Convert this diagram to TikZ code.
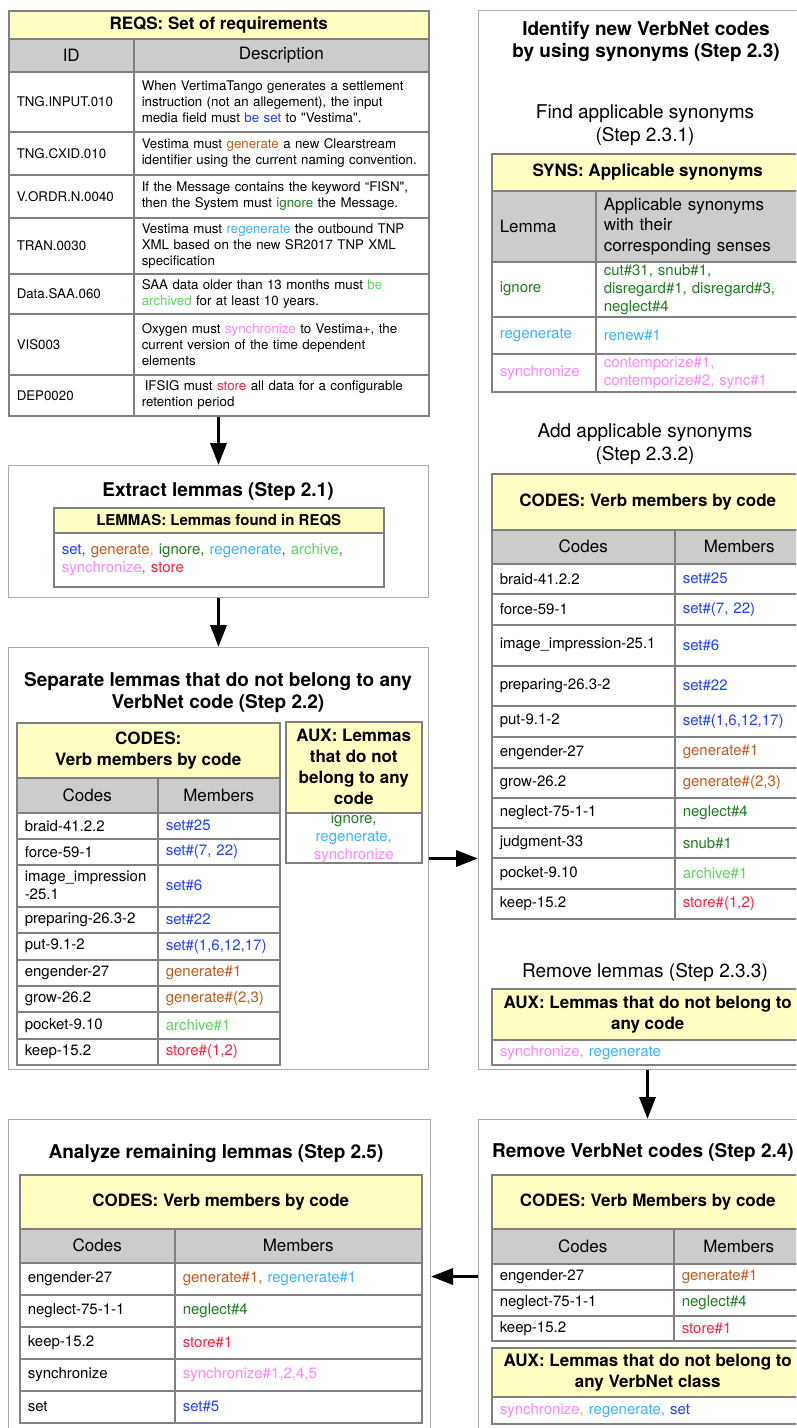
\documentclass[tikz,border=0pt]{standalone}
\usepackage{fontspec}
\setmainfont{TeX Gyre Heros}
\usetikzlibrary{arrows.meta}

\definecolor{cset}{HTML}{2040FF}
\definecolor{cgen}{HTML}{BF5A1F}
\definecolor{cign}{HTML}{1E7B1E}
\definecolor{cregen}{HTML}{3BB2FF}
\definecolor{carch}{HTML}{5CD65C}
\definecolor{csync}{HTML}{FF85FF}
\definecolor{cstore}{HTML}{FF1F3F}
\definecolor{corange}{HTML}{FF9A1A}
\definecolor{cdred}{HTML}{B0202A}
\definecolor{cpurp}{HTML}{9A30B0}
\definecolor{titlefill}{HTML}{FFFFC4}
\definecolor{headfill}{HTML}{CCCCCC}
\definecolor{tabline}{HTML}{808080}
\definecolor{boxline}{HTML}{ABABAB}

\newcommand\reqfont{\fontsize{13.3}{16}\selectfont}
\newcommand\cellfont{\fontsize{15}{18}\selectfont}
\newcommand\hdrfont{\fontsize{17}{20.5}\selectfont}
\newcommand\ttlfont{\bfseries\fontsize{17}{21}\selectfont}
\newcommand\stepfont{\bfseries\fontsize{19}{22}\selectfont}
\newcommand\substepfont{\fontsize{19}{23}\selectfont}

\tikzset{
  cellL/.style 2 args={draw=tabline, line width=1.5pt, anchor=north west, inner xsep=8pt, inner ysep=0pt, text width=#1-16pt, minimum height=#2, align=left, font=\cellfont},
  cellC/.style 2 args={draw=tabline, line width=1.5pt, anchor=north west, inner sep=0pt, minimum width=#1, minimum height=#2, align=center, font=\cellfont},
  ttl/.style={fill=titlefill, font=\ttlfont},
  hdr/.style={fill=headfill, font=\hdrfont},
  req/.style={font=\reqfont},
  stepbox/.style={draw=boxline, line width=1pt, anchor=north west, inner sep=0pt},
  steptitle/.style={font=\stepfont, align=center},
  substep/.style={font=\substepfont, align=center},
  flow/.style={line width=3.5pt, -{Triangle[length=22pt,width=16pt]}},
}

\begin{document}
\begin{tikzpicture}[x=1pt, y=-1pt]
            \useasboundingbox (0,0) rectangle (796,1428);
            \clip (0,0) rectangle (796,1428);
            \fill[white] (0,0) rectangle (796,1428);

            % REQS
            \node[cellC={420pt}{28pt}, ttl] (reqsT) at (8,10) {REQS: Set of requirements};
            \node[cellC={125pt}{33pt}, hdr] (reqsH1) at (8,38) {ID};
            \node[cellC={295pt}{33pt}, hdr] (reqsH2) at (133,38) {Description};
            \node[cellL={125pt}{60pt}, req] (reqsI1) at (8,71) {TNG.INPUT.010};
            \node[cellL={295pt}{60pt}, req] (reqsD1) at (133,71) {When VertimaTango generates a settlement\\instruction (not an allegement), the input\\media field must \textcolor{cset}{be set} to \textquotedbl Vestima\textquotedbl.};
            \node[cellL={125pt}{43pt}, req] (reqsI2) at (8,131) {TNG.CXID.010};
            \node[cellL={295pt}{43pt}, req] (reqsD2) at (133,131) {Vestima must \textcolor{cgen}{generate} a new Clearstream\\identifier using the current naming convention.};
            \node[cellL={125pt}{43pt}, req] (reqsI3) at (8,174) {V.ORDR.N.0040};
            \node[cellL={295pt}{43pt}, req] (reqsD3) at (133,174) {If the Message contains the keyword “FISN\textquotedbl,\\then the System must \textcolor{cign}{ignore} the Message.};
            \node[cellL={125pt}{56pt}, req] (reqsI4) at (8,217) {TRAN.0030};
            \node[cellL={295pt}{56pt}, req] (reqsD4) at (133,217) {Vestima must \textcolor{cregen}{regenerate} the outbound TNP\\XML based on the new SR2017 TNP XML\\specification};
            \node[cellL={125pt}{40pt}, req] (reqsI5) at (8,273) {Data.SAA.060};
            \node[cellL={295pt}{40pt}, req] (reqsD5) at (133,273) {SAA data older than 13 months must \textcolor{carch}{be}\\\textcolor{carch}{archived} for at least 10 years.};
            \node[cellL={125pt}{61pt}, req] (reqsI6) at (8,313) {VIS003};
            \node[cellL={295pt}{61pt}, req] (reqsD6) at (133,313) {Oxygen must \textcolor{csync}{synchronize} to Vestima+, the\\current version of the time dependent\\elements};
            \node[cellL={125pt}{41pt}, req] (reqsI7) at (8,374) {DEP0020};
            \node[cellL={295pt}{41pt}, req] (reqsD7) at (133,374) {\hspace*{3pt}IFSIG must \textcolor{cstore}{store} all data for a configurable\\retention period};

            % Step 2.1
            \node[stepbox, minimum width=420pt, minimum height=132pt] (extract) at (8,465) {};
            \node[steptitle] (extractT) at (218,492) {Extract lemmas (Step 2.1)};
            \node[cellC={330pt}{25pt}, ttl, font=\bfseries\fontsize{15}{18}\selectfont] (lemT) at (53,507) {LEMMAS: Lemmas found in REQS};
            \node[cellL={330pt}{54pt}] (lemL) at (53,532) {\textcolor{cset}{set,} \textcolor{cgen}{generate}\textcolor{corange}{,} \textcolor{cign}{ignore,} \textcolor{cregen}{regenerate}\textcolor{cdred}{,} \textcolor{carch}{archive}\textcolor{cpurp}{,}\\\textcolor{csync}{synchronize}\textcolor{cgen}{,} \textcolor{cstore}{store}};

            % Step 2.2
            \node[stepbox, minimum width=420pt, minimum height=422pt] (separate) at (8,647) {};
            \node[steptitle] (separateT) at (218,693) {Separate lemmas that do not belong to any\\VerbNet code (Step 2.2)};
            \node[cellC={263pt}{55pt}, ttl] (codesT) at (16,722) {CODES:\\Verb members by code};
            \node[cellC={141pt}{35pt}, hdr] (codesH1) at (16,777) {Codes};
            \node[cellC={122pt}{35pt}, hdr] (codesH2) at (157,777) {Members};
            \node[cellL={141pt}{26pt}] (codesC1) at (16,812) {braid-41.2.2};
            \node[cellL={122pt}{26pt}, text=cset] (codesM1) at (157,812) {set\#25};
            \node[cellL={141pt}{26pt}] (codesC2) at (16,838) {force-59-1};
            \node[cellL={122pt}{26pt}, text=cset] (codesM2) at (157,838) {set\#(7, 22)};
            \node[cellL={141pt}{42pt}] (codesC3) at (16,864) {image\_impression\\-25.1};
            \node[cellL={122pt}{42pt}, text=cset] (codesM3) at (157,864) {set\#6};
            \node[cellL={141pt}{26pt}] (codesC4) at (16,906) {preparing-26.3-2};
            \node[cellL={122pt}{26pt}, text=cset] (codesM4) at (157,906) {set\#22};
            \node[cellL={141pt}{27pt}] (codesC5) at (16,932) {put-9.1-2};
            \node[cellL={122pt}{27pt}, text=cset] (codesM5) at (157,932) {set\#(1,6,12,17)};
            \node[cellL={141pt}{26pt}] (codesC6) at (16,959) {engender-27};
            \node[cellL={122pt}{26pt}, text=cgen] (codesM6) at (157,959) {generate\#1};
            \node[cellL={141pt}{26pt}] (codesC7) at (16,985) {grow-26.2};
            \node[cellL={122pt}{26pt}, text=cgen] (codesM7) at (157,985) {generate\#(2,3)};
            \node[cellL={141pt}{27pt}] (codesC8) at (16,1011) {pocket-9.10};
            \node[cellL={122pt}{27pt}, text=carch] (codesM8) at (157,1011) {archive\#1};
            \node[cellL={141pt}{26pt}] (codesC9) at (16,1038) {keep-15.2};
            \node[cellL={122pt}{26pt}, text=cstore] (codesM9) at (157,1038) {store\#(1,2)};

            \node[cellC={136pt}{91pt}, ttl] (auxT) at (285,721) {AUX: Lemmas\\that do not\\belong to any\\code};
            \node[cellC={136pt}{50pt}] (auxL) at (285,812) {\textcolor{cign}{ignore,}\\\textcolor{cregen}{regenerate,}\\\textcolor{csync}{synchronize}};

            % Step 2.3
            \node[stepbox, minimum width=338pt, minimum height=1059pt] (identify) at (478,10) {};
            \node[steptitle] (identifyT) at (646,41) {Identify new VerbNet codes\\by using synonyms (Step 2.3)};
            \node[substep] (findT) at (645,125) {Find applicable synonyms\\(Step 2.3.1)};
            \node[cellC={312pt}{37pt}, ttl] (synsT) at (491,153) {SYNS: Applicable synonyms};
            \node[cellL={104pt}{71pt}, hdr] (synsH1) at (491,190) {Lemma};
            \node[cellL={208pt}{71pt}, hdr] (synsH2) at (595,190) {Applicable synonyms\\with their\\corresponding senses};
            \node[cellL={104pt}{55pt}, text=cign] (synsL1) at (491,261) {ignore};
            \node[cellL={208pt}{55pt}, text=cign] (synsS1) at (595,261) {cut\#31, snub\#1,\\disregard\#1, disregard\#3,\\neglect\#4};
            \node[cellL={104pt}{37pt}, text=cregen] (synsL2) at (491,316) {regenerate};
            \node[cellL={208pt}{37pt}, text=cregen] (synsS2) at (595,316) {renew\#1};
            \node[cellL={104pt}{38pt}, text=csync] (synsL3) at (491,353) {synchronize};
            \node[cellL={208pt}{38pt}, text=csync] (synsS3) at (595,353) {contemporize\#1,\\contemporize\#2, sync\#1};

            \node[substep] (addT) at (645,444) {Add applicable synonyms\\(Step 2.3.2)};
            \node[cellC={312pt}{56pt}, ttl] (codes2T) at (491,473) {CODES: Verb members by code};
            \node[cellC={183pt}{34pt}, hdr] (codes2H1) at (491,529) {Codes};
            \node[cellC={129pt}{34pt}, hdr] (codes2H2) at (674,529) {Members};
            \node[cellL={183pt}{30pt}] (codes2C1) at (491,563) {braid-41.2.2};
            \node[cellL={129pt}{30pt}, text=cset] (codes2M1) at (674,563) {set\#25};
            \node[cellL={183pt}{31pt}] (codes2C2) at (491,593) {force-59-1};
            \node[cellL={129pt}{31pt}, text=cset] (codes2M2) at (674,593) {set\#(7, 22)};
            \node[cellL={183pt}{41pt}] (codes2C3) at (491,624) {image\_impression-25.1};
            \node[cellL={129pt}{41pt}, text=cset] (codes2M3) at (674,624) {set\#6};
            \node[cellL={183pt}{40pt}] (codes2C4) at (491,665) {preparing-26.3-2};
            \node[cellL={129pt}{40pt}, text=cset] (codes2M4) at (674,665) {set\#22};
            \node[cellL={183pt}{31pt}] (codes2C5) at (491,705) {put-9.1-2};
            \node[cellL={129pt}{31pt}, text=cset] (codes2M5) at (674,705) {set\#(1,6,12,17)};
            \node[cellL={183pt}{31pt}] (codes2C6) at (491,736) {engender-27};
            \node[cellL={129pt}{31pt}, text=cgen] (codes2M6) at (674,736) {generate\#1};
            \node[cellL={183pt}{30pt}] (codes2C7) at (491,767) {grow-26.2};
            \node[cellL={129pt}{30pt}, text=cgen] (codes2M7) at (674,767) {generate\#(2,3)};
            \node[cellL={183pt}{30pt}] (codes2C8) at (491,797) {neglect-75-1-1};
            \node[cellL={129pt}{30pt}, text=cign] (codes2M8) at (674,797) {neglect\#4};
            \node[cellL={183pt}{30pt}] (codes2C9) at (491,827) {judgment-33};
            \node[cellL={129pt}{30pt}, text=cign] (codes2M9) at (674,827) {snub\#1};
            \node[cellL={183pt}{31pt}] (codes2C10) at (491,857) {pocket-9.10};
            \node[cellL={129pt}{31pt}, text=carch] (codes2M10) at (674,857) {archive\#1};
            \node[cellL={183pt}{30pt}] (codes2C11) at (491,888) {keep-15.2};
            \node[cellL={129pt}{30pt}, text=cstore] (codes2M11) at (674,888) {store\#(1,2)};

            \node[substep] (removeT) at (645,972) {Remove lemmas (Step 2.3.3)};
            \node[cellC={312pt}{51pt}, ttl] (aux2T) at (491,988) {AUX: Lemmas that do not belong to\\any code};
            \node[cellL={312pt}{25pt}] (aux2L) at (491,1039) {\textcolor{csync}{synchronize}\textcolor{corange}{,} \textcolor{cregen}{regenerate}};

            % Step 2.4
            \node[stepbox, minimum width=338pt, minimum height=314pt] (removecodes) at (478,1119) {};
            \node[steptitle] (removecodesT) at (643,1153) {Remove VerbNet codes (Step 2.4)};
            \node[cellC={312pt}{54pt}, ttl] (codes3T) at (491,1174) {CODES: Verb Members by code};
            \node[cellC={182pt}{35pt}, hdr] (codes3H1) at (491,1228) {Codes};
            \node[cellC={130pt}{35pt}, hdr] (codes3H2) at (673,1228) {Members};
            \node[cellL={182pt}{26pt}] (codes3C1) at (491,1263) {engender-27};
            \node[cellL={130pt}{26pt}, text=cgen] (codes3M1) at (673,1263) {generate\#1};
            \node[cellL={182pt}{26pt}] (codes3C2) at (491,1289) {neglect-75-1-1};
            \node[cellL={130pt}{26pt}, text=cign] (codes3M2) at (673,1289) {neglect\#4};
            \node[cellL={182pt}{25pt}] (codes3C3) at (491,1315) {keep-15.2};
            \node[cellL={130pt}{25pt}, text=cstore] (codes3M3) at (673,1315) {store\#1};
            \node[cellC={312pt}{49pt}, ttl] (aux3T) at (491,1347) {AUX: Lemmas that do not belong to\\any VerbNet class};
            \node[cellL={312pt}{27pt}] (aux3L) at (491,1396) {\textcolor{csync}{synchronize}\textcolor{corange}{,} \textcolor{cregen}{regenerate,} \textcolor{cset}{set}};

            % Step 2.5
            \node[stepbox, minimum width=422pt, minimum height=314pt] (analyze) at (8,1119) {};
            \node[steptitle] (analyzeT) at (216,1153) {Analyze remaining lemmas (Step 2.5)};
            \node[cellC={402pt}{54pt}, ttl] (codes4T) at (19,1174) {CODES: Verb members by code};
            \node[cellC={155pt}{34pt}, hdr] (codes4H1) at (19,1228) {Codes};
            \node[cellC={247pt}{34pt}, hdr] (codes4H2) at (174,1228) {Members};
            \node[cellL={155pt}{32pt}] (codes4C1) at (19,1262) {engender-27};
            \node[cellL={247pt}{32pt}] (codes4M1) at (174,1262) {\textcolor{cgen}{generate\#1,} \textcolor{cregen}{regenerate\#1}};
            \node[cellL={155pt}{32pt}] (codes4C2) at (19,1294) {neglect-75-1-1};
            \node[cellL={247pt}{32pt}, text=cign] (codes4M2) at (174,1294) {neglect\#4};
            \node[cellL={155pt}{32pt}] (codes4C3) at (19,1326) {keep-15.2};
            \node[cellL={247pt}{32pt}, text=cstore] (codes4M3) at (174,1326) {store\#1};
            \node[cellL={155pt}{32pt}] (codes4C4) at (19,1358) {synchronize};
            \node[cellL={247pt}{32pt}, text=csync] (codes4M4) at (174,1358) {synchronize\#1,2,4,5};
            \node[cellL={155pt}{32pt}] (codes4C5) at (19,1390) {set};
            \node[cellL={247pt}{32pt}, text=cset] (codes4M5) at (174,1390) {set\#5};

            % flow between steps
            \draw[flow] (extract.north |- reqsD7.south) -- (extract.north);
            \draw[flow] (extract.south) -- (separate.north);
            \draw[flow] (separate.east) -- (separate.east -| identify.west);
            \draw[flow] (identify.south) -- (removecodes.north);
            \draw[flow] (removecodes.west) -- (analyze.east);
\end{tikzpicture}
\end{document}
